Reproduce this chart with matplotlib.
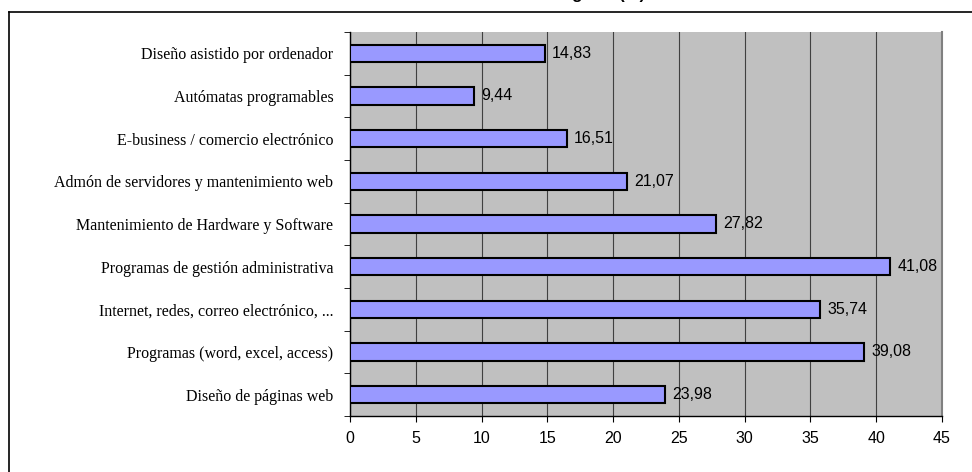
import numpy as np
import matplotlib.pyplot as plt
from matplotlib.lines import Line2D

categories = [
    "Diseño asistido por ordenador",
    "Autómatas programables",
    "E-business / comercio electrónico",
    "Admón de servidores y mantenimiento web",
    "Mantenimiento de Hardware y Software",
    "Programas de gestión administrativa",
    "Internet, redes, correo electrónico, ...",
    "Programas (word, excel, access)",
    "Diseño de páginas web",
]
values = [14.83, 9.44, 16.51, 21.07, 27.82, 41.08, 35.74, 39.08, 23.98]
xticks = [0, 5, 10, 15, 20, 25, 30, 35, 40, 45]

W, H = 972, 472
fig = plt.figure(figsize=(W / 100, H / 100), dpi=100)
ax = fig.add_axes([350 / W, 1 - 416 / H, (942 - 350) / W, (416 - 32) / H])

# outer chart frame (only top and left edges visible in the crop)
fig.add_artist(Line2D([9 / W, 1], [1 - 12 / H, 1 - 12 / H], transform=fig.transFigure,
                      color="black", lw=1.2))
fig.add_artist(Line2D([9 / W, 9 / W], [0, 1 - 12 / H], transform=fig.transFigure,
                      color="black", lw=1.2))

# title, cut off by the top edge like in the source image
fig.text(645 / W, 1 + 1.5 / H, "Formación en áreas tecnológicas (%)", ha="right",
         va="baseline", fontsize=12, fontweight="bold", family="Liberation Sans")

y = np.arange(len(categories))
ax.set_facecolor("#C0C0C0")
ax.barh(y, values, height=0.4, color="#9999FF", edgecolor="black", linewidth=1.5, zorder=3)

for yi, v in zip(y, values):
    ax.annotate(f"{v:.2f}".replace(".", ","), (v, yi), xytext=(5, 0),
                textcoords="offset points", va="center", ha="left",
                fontsize=11.5, family="Liberation Sans")

ax.set_xlim(0, 45)
ax.set_ylim(len(categories) - 0.5, -0.5)
ax.set_xticks(xticks)
ax.set_xticklabels([str(t) for t in xticks], fontsize=11.5, family="Liberation Sans")
ax.xaxis.grid(True, color="#404040", lw=0.8, zorder=0)

ax.set_yticks(y)
ax.set_yticklabels(categories, fontsize=11.5, family="Liberation Serif")
ax.set_yticks(np.arange(-0.5, len(categories)), minor=True)
ax.tick_params(axis="y", which="major", length=0, pad=12)
ax.tick_params(axis="y", which="minor", length=4, direction="out", color="black")
ax.tick_params(axis="x", length=4, direction="out", pad=7)

for s in ("left", "bottom"):
    ax.spines[s].set_color("black")
    ax.spines[s].set_linewidth(1.0)
ax.spines["right"].set_color("#808080")
ax.spines["right"].set_linewidth(1.5)
ax.spines["top"].set_visible(False)

fig.savefig("out.png", dpi=100)
